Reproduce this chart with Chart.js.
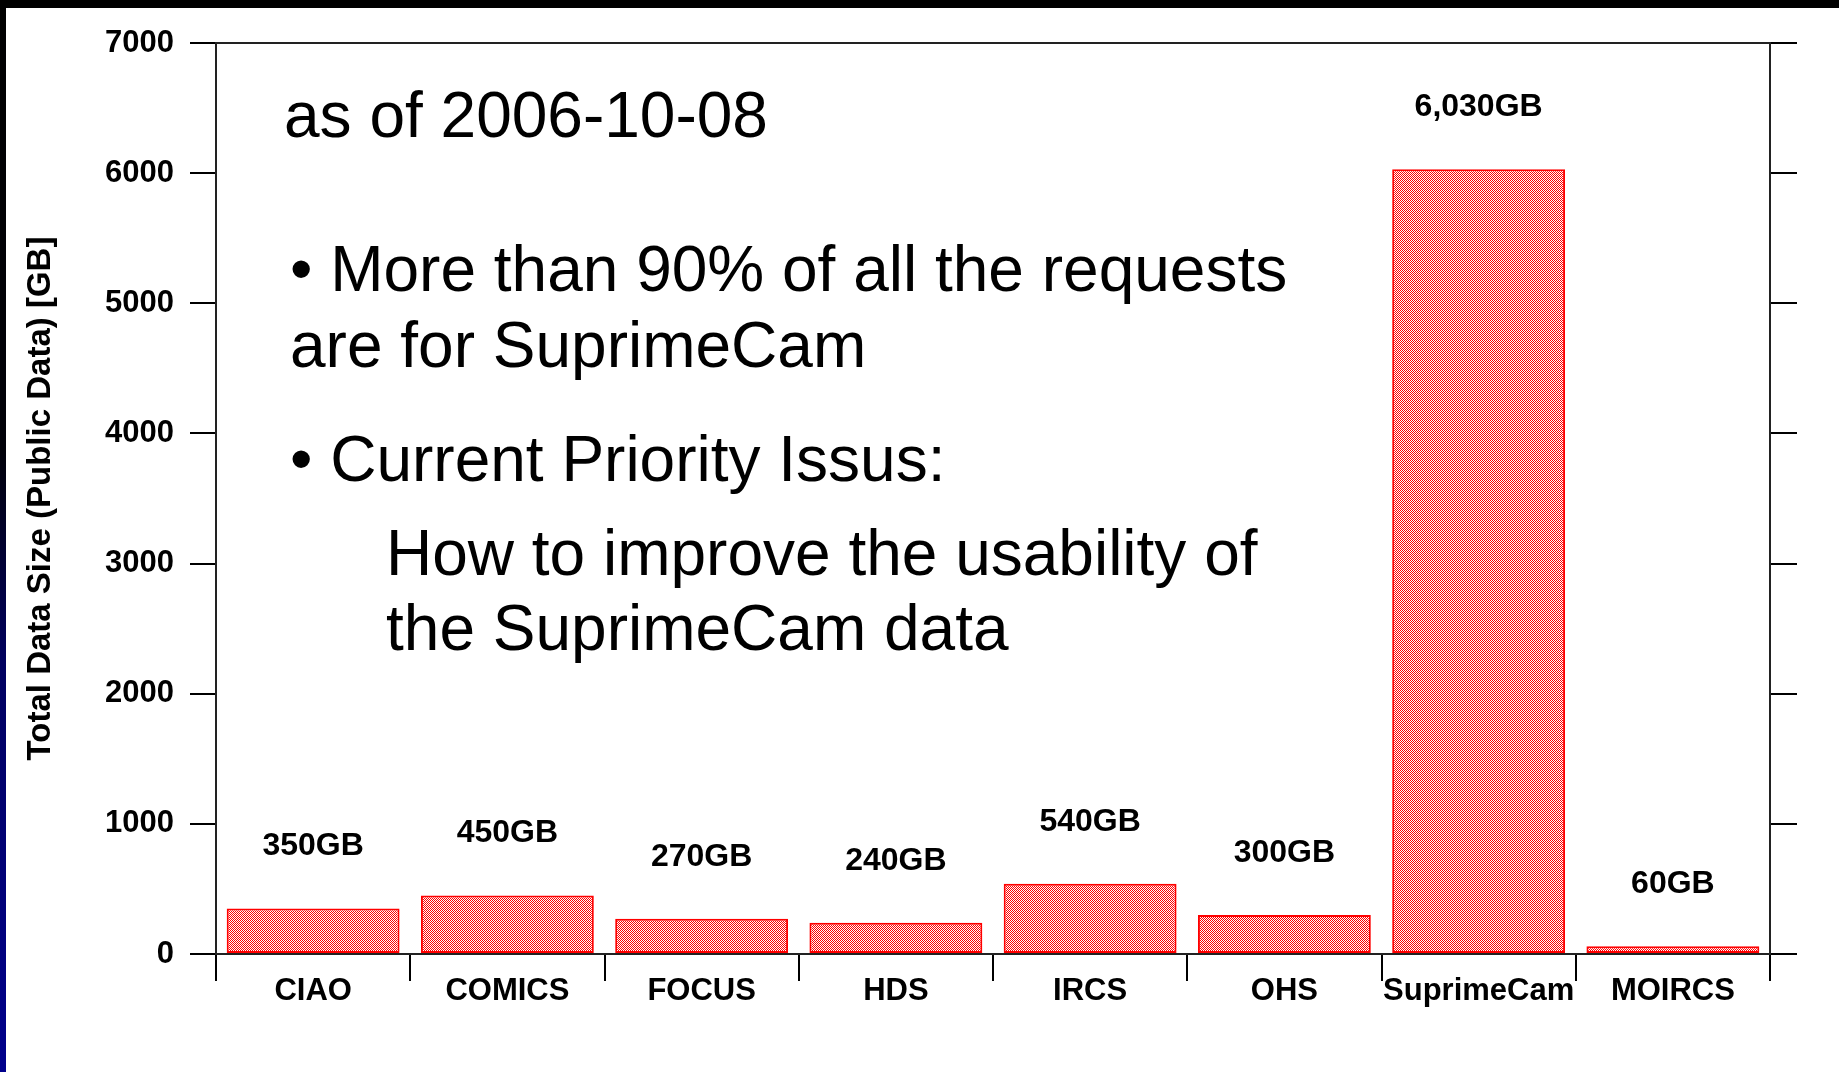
<!DOCTYPE html>
<html>
<head>
<meta charset="utf-8">
<script src="https://cdn.jsdelivr.net/npm/chart.js@4.4.1/dist/chart.umd.min.js"></script>
<style>
  html, body { margin: 0; padding: 0; background: #fff; overflow: hidden; }
  canvas { display: block; }
</style>
</head>
<body>
<canvas id="size-chart" width="1839" height="1072"></canvas>
<script>
// instruments and public data size in GB
const instruments = ['CIAO', 'COMICS', 'FOCUS', 'HDS', 'IRCS', 'OHS', 'SuprimeCam', 'MOIRCS'];
const dataSizeGB = [350, 450, 270, 240, 540, 300, 6030, 60];
const yMin = 0;
const yMax = 7000;
const yStep = 1000;
const yTitle = 'Total Data Size (Public Data) [GB]';
const noteLines = [
    'as of 2006-10-08',
    '\u2022 More than 90% of all the requests',
    'are for SuprimeCam',
    '\u2022 Current Priority Issus:',
    'How to improve the usability of',
    'the SuprimeCam data'
];

document.addEventListener('DOMContentLoaded', () => {
    const canvas = document.getElementById('size-chart');
    const ctx = canvas.getContext('2d');
    const FONT = '"Liberation Sans", Arial, sans-serif';

    // dithered red/white fill like the old GIF
    const tile = document.createElement('canvas');
    tile.width = 2;
    tile.height = 2;
    const tctx = tile.getContext('2d');
    tctx.fillStyle = '#ffffff';
    tctx.fillRect(0, 0, 2, 2);
    tctx.fillStyle = '#ff0000';
    tctx.fillRect(0, 0, 1, 1);
    tctx.fillRect(1, 1, 1, 1);
    const dither = ctx.createPattern(tile, 'repeat');

    // where the slide text sits
    const notePos = [
        [284, 137], [290, 291], [290, 367], [290, 481], [386, 575], [386, 650]
    ];

    const slideFrame = {
        id: 'slideFrame',
        beforeDraw(chart) {
            const c = chart.ctx;
            c.save();
            c.fillStyle = '#000';
            c.fillRect(0, 0, chart.width, 8);
            const g = c.createLinearGradient(0, 0, 0, chart.height);
            g.addColorStop(0, '#000000');
            g.addColorStop(0.42, '#000008');
            g.addColorStop(0.62, '#000060');
            g.addColorStop(1, '#00008c');
            c.fillStyle = g;
            c.fillRect(0, 0, 6, chart.height);
            c.restore();
        },
        afterDraw(chart) {
            const c = chart.ctx;
            c.save();
            c.fillStyle = '#000';
            c.textAlign = 'left';
            c.textBaseline = 'alphabetic';
            c.font = '64px ' + FONT;
            noteLines.forEach((t, i) => {
                c.fillText(t, notePos[i][0], notePos[i][1]);
            });
            c.restore();
        }
    };

    const barValues = {
        id: 'barValues',
        afterDatasetsDraw(chart) {
            const c = chart.ctx;
            const meta = chart.getDatasetMeta(0);
            c.save();
            c.fillStyle = '#000';
            c.textAlign = 'center';
            c.textBaseline = 'middle';
            c.font = 'bold 32px ' + FONT;
            meta.data.forEach((bar, i) => {
                const label = dataSizeGB[i].toLocaleString('en-US') + 'GB';
                c.fillText(label, bar.x, bar.y - 62);
            });
            c.restore();
        }
    };

    const axisLine = { color: '#222', width: 2 };
    const tickFont = { family: FONT, size: 31, weight: 'bold' };

    new Chart(ctx, {
        type: 'bar',
        data: {
            labels: instruments,
            datasets: [{
                label: 'Total Data Size',
                data: dataSizeGB,
                backgroundColor: dither,
                borderColor: '#ff0000',
                borderWidth: 2,
                borderSkipped: false,
                barPercentage: 0.89,
                categoryPercentage: 1.0,
                xAxisID: 'x',
                yAxisID: 'y'
            }]
        },
        options: {
            responsive: false,
            animation: false,
            devicePixelRatio: 1,
            layout: { padding: 0 },
            plugins: {
                legend: { display: false },
                tooltip: { enabled: false }
            },
            scales: {
                x: {
                    position: 'bottom',
                    offset: true,
                    grid: {
                        offset: true,
                        drawOnChartArea: false,
                        tickLength: 27,
                        color: '#000',
                        lineWidth: 2
                    },
                    border: axisLine,
                    ticks: { color: '#000', font: tickFont, padding: -8, maxRotation: 0, autoSkip: false },
                    afterFit: (s) => { s.height = 118; }
                },
                xTop: {
                    type: 'category',
                    position: 'top',
                    grid: { display: false },
                    border: axisLine,
                    ticks: { display: false },
                    afterFit: (s) => { s.height = 43; }
                },
                y: {
                    position: 'left',
                    min: yMin,
                    max: yMax,
                    grid: {
                        drawOnChartArea: false,
                        tickLength: 26,
                        color: '#000',
                        lineWidth: 2
                    },
                    border: axisLine,
                    ticks: {
                        stepSize: yStep,
                        color: '#000',
                        font: tickFont,
                        padding: 16,
                        callback: (v) => String(v)
                    },
                    title: {
                        display: true,
                        text: yTitle,
                        color: '#000',
                        font: { family: FONT, size: 33, weight: 'bold' },
                        padding: { top: 21, bottom: 0 }
                    },
                    afterFit: (s) => { s.width = 216; }
                },
                yRight: {
                    position: 'right',
                    min: yMin,
                    max: yMax,
                    grid: {
                        drawOnChartArea: false,
                        tickLength: 27,
                        color: '#000',
                        lineWidth: 2
                    },
                    border: axisLine,
                    ticks: { stepSize: yStep, display: false },
                    afterFit: (s) => { s.width = 69; }
                }
            }
        },
        plugins: [slideFrame, barValues]
    });
});
</script>
</body>
</html>
